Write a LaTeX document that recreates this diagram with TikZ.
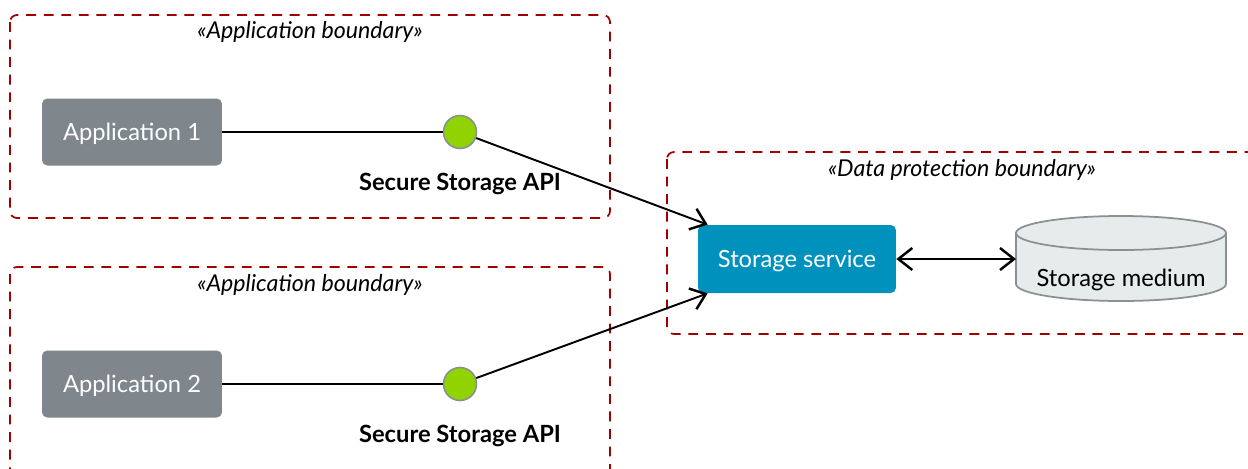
\documentclass[tikz,border=0pt]{standalone}
\usepackage{fontspec}
\setmainfont{Lato}
\usetikzlibrary{arrows.meta, positioning}
\definecolor{appgray}{HTML}{7F868C}
\definecolor{svcblue}{HTML}{0092BD}
\definecolor{apigreen}{HTML}{91D300}
\definecolor{lnkgray}{HTML}{8A9094}
\definecolor{diskfill}{HTML}{E6EBEB}
\definecolor{bdred}{HTML}{A00000}

\begin{document}
\begin{tikzpicture}[
  x=0.02cm, y=-0.02cm,
  >={Straight Barb[length=2.8mm, width=4.4mm, line width=1.4pt]},
  every node/.style={font=\fontsize{13.5}{16}\selectfont},
  bound/.style={draw=bdred, line width=1pt, dash pattern=on 5.6pt off 4.4pt,
    rounded corners=4pt},
  btitle/.style={font=\fontsize{13.2}{16}\selectfont\itshape},
  appbox/.style={fill=appgray, rounded corners=3pt, text=white, text depth=0pt,
    minimum width=3.6cm, minimum height=1.34cm},
  api/.style={circle, draw=lnkgray, line width=0.9pt, fill=apigreen,
    minimum size=0.66cm, inner sep=0pt},
  apilbl/.style={font=\fontsize{13.5}{16}\selectfont\bfseries},
  svcbox/.style={fill=svcblue, rounded corners=3pt, text=white, text depth=0pt,
    minimum width=3.96cm, minimum height=1.36cm},
  disk/.style={draw=lnkgray, line width=1pt, fill=diskfill},
  link/.style={line width=1.1pt, black},
]

% Canvas
\useasboundingbox (0,0) rectangle (1248,468);
\clip (0,0) rectangle (1248,468);
\fill[white] (0,0) rectangle (1248,468);

% =============================================
% Boundaries
% =============================================
\draw[bound] (10,15) rectangle (610,218);
\node[btitle] (app1-title) at (310,32) {«Application boundary»};

\draw[bound] (10,267) rectangle (610,490);
\node[btitle] (app2-title) at (310,285) {«Application boundary»};

\draw[bound] (667,152) rectangle (1270,334);
\node[btitle] (dp-title) at (962,170) {«Data protection boundary»};

% =============================================
% Applications and their API
% =============================================
\node[appbox] (app1) at (132,132) {Application 1};
\node[api] (api1) at (460,132) {};
\node[apilbl] (api1-lbl) at (460,184) {Secure Storage API};

\node[appbox] (app2) at (132,384) {Application 2};
\node[api] (api2) at (460,384) {};
\node[apilbl] (api2-lbl) at (460,436) {Secure Storage API};

% =============================================
% Storage side
% =============================================
\node[svcbox] (svc) at (797,259) {Storage service};

% Cylinder for the medium
\draw[disk] (1016,233) -- (1016,284) arc[start angle=180, end angle=360,
  x radius=105, y radius=-17] -- (1226,233);
\draw[disk] (1121,233) ellipse[x radius=105, y radius=17];
\node (disk) at (1121,280) {Storage medium};
\coordinate (disk-in) at (1016,259);

% Connectors
\draw[link] (app1) -- (api1);
\draw[link] (app2) -- (api2);
\draw[link, ->] (api1) -- ([xshift=0.2cm]svc.north west);
\draw[link, ->] (api2) -- ([xshift=0.2cm]svc.south west);
\draw[link, <->] (svc.east) -- (disk-in);

\end{tikzpicture}
\end{document}
